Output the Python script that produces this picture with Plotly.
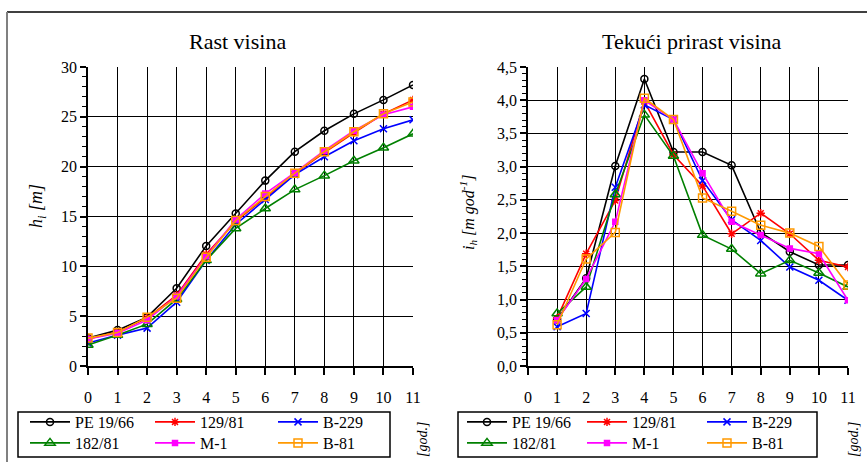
import plotly.graph_objects as go

W, H = 867, 462

series_names = ["PE 19/66", "129/81", "B-229", "182/81", "M-1", "B-81"]
colors = ["#000000", "#FF0000", "#0000FF", "#008000", "#FF00FF", "#FF9900"]
symbols = ["circle-open", "asterisk-open", "x-thin-open", "triangle-up-open", "square", "square-open"]
msizes = [7, 7, 7, 9, 5, 8]

years_height = list(range(0, 12))
pe_height = [2.8, 3.6, 4.9, 7.8, 12.05, 15.3, 18.6, 21.5, 23.6, 25.3, 26.7, 28.2]
r129_height = [2.7, 3.4, 4.8, 7.1, 11.2, 14.5, 16.9, 19.3, 21.4, 23.4, 25.3, 26.7]
b229_height = [2.3, 3.1, 3.8, 6.4, 10.6, 14.2, 16.7, 19.2, 21.0, 22.6, 23.8, 24.7]
g182_height = [2.1, 3.1, 4.2, 6.7, 10.6, 13.8, 15.8, 17.7, 19.1, 20.6, 21.9, 23.3]
m1_height = [2.7, 3.3, 4.6, 7.0, 11.0, 14.7, 17.3, 19.4, 21.6, 23.6, 25.2, 26.0]
b81_height = [2.8, 3.35, 4.9, 6.8, 10.9, 14.6, 17.0, 19.35, 21.5, 23.5, 25.3, 26.5]

years_incr = list(range(1, 12))
pe_incr = [0.70, 1.32, 3.01, 4.32, 3.22, 3.22, 3.02, 2.01, 1.72, 1.52, 1.52]
r129_incr = [0.72, 1.69, 2.49, 3.98, 3.18, 2.71, 1.99, 2.30, 1.99, 1.59, 1.49]
b229_incr = [0.59, 0.79, 2.69, 3.93, 3.71, 2.79, 2.20, 1.89, 1.49, 1.29, 0.99]
g182_incr = [0.79, 1.19, 2.58, 3.78, 3.16, 1.97, 1.76, 1.39, 1.59, 1.40, 1.19]
m1_incr = [0.69, 1.31, 2.17, 4.00, 3.71, 2.90, 2.17, 1.97, 1.77, 1.69, 0.99]
b81_incr = [0.62, 1.61, 2.01, 4.03, 3.71, 2.53, 2.33, 2.12, 2.00, 1.80, 1.22]

height_series = [pe_height, r129_height, b229_height, g182_height, m1_height, b81_height]
incr_series = [pe_incr, r129_incr, b229_incr, g182_incr, m1_incr, b81_incr]

x_ticks = list(range(0, 12))
y1_ticks = [0, 5, 10, 15, 20, 25, 30]
y2_ticks = [0.0, 0.5, 1.0, 1.5, 2.0, 2.5, 3.0, 3.5, 4.0, 4.5]
y2_ticklabels = [f"{v:.1f}".replace(".", ",") for v in y2_ticks]

title_left = "Rast visina"
title_right = "Tekući prirast visina"
ytitle_left = "<i>h<sub>i</sub> [m]</i>"
ytitle_right = "<i>i<sub>h</sub> [m god<sup>-1</sup>]</i>"
xunit = "<i>[god.]</i>"

FONT = "Liberation Serif, Times New Roman, serif"


def px(x):
    return x / W


def py(y):
    return 1 - y / H


# legend placement (pixel): column x for each series, row y
col_x_left = [25, 150, 273]
col_x_right = [462, 582, 702]
row_y = [405, 426]
col_of = [0, 1, 2, 0, 1, 2]
row_of = [0, 0, 0, 1, 1, 1]

fig = go.Figure()

legend_common = dict(
    orientation="v", xanchor="left", yanchor="top",
    bgcolor="rgba(0,0,0,0)", borderwidth=0,
    font=dict(family=FONT, size=16, color="#000000"),
    itemwidth=40, tracegroupgap=0, itemclick=False, itemdoubleclick=False,
)
legend_layouts = {}
lg = 0
for xs, ys, xa, ya, colx in [
        (years_height, height_series, "x", "y", col_x_left),
        (years_incr, incr_series, "x2", "y2", col_x_right)]:
    for i, name in enumerate(series_names):
        lg += 1
        key = "legend" if lg == 1 else f"legend{lg}"
        legend_layouts[key] = dict(x=px(colx[col_of[i]]), y=py(row_y[row_of[i]]), **legend_common)
        fig.add_trace(go.Scatter(
            x=xs, y=ys[i], name=name, mode="lines+markers",
            line=dict(color=colors[i], width=1.6),
            marker=dict(symbol=symbols[i], size=msizes[i], color=colors[i],
                        line=dict(color=colors[i], width=1.5)),
            xaxis=xa, yaxis=ya, legend=key, showlegend=True,
        ))

common_x = dict(
    range=[0, 11], tickmode="array", tickvals=x_ticks, ticktext=[str(v) for v in x_ticks],
    showgrid=True, gridcolor="#000000", gridwidth=1,
    showline=True, linecolor="#000000", linewidth=1.5,
    ticks="outside", ticklen=7, tickcolor="#000000", tickwidth=1.5,
    tickfont=dict(family=FONT, size=16, color="#000000"),
    ticklabelstandoff=9, zeroline=False, fixedrange=True,
)
fig.update_layout(
    width=W, height=H,
    showlegend=True,
    margin=dict(l=0, r=0, t=0, b=0, autoexpand=False),
    paper_bgcolor="#FFFFFF", plot_bgcolor="#FFFFFF",
    font=dict(family=FONT, size=16, color="#000000"),
    xaxis=dict(domain=[px(88), px(413)], anchor="y", **common_x),
    xaxis2=dict(domain=[px(528), px(848)], anchor="y2", **common_x),
    yaxis=dict(
        domain=[py(366), py(67)], anchor="x", range=[0, 30],
        tickmode="array", tickvals=y1_ticks, ticktext=[str(v) for v in y1_ticks],
        showgrid=True, gridcolor="#000000", gridwidth=1,
        showline=True, linecolor="#000000", linewidth=1.5,
        ticks="outside", ticklen=6, tickcolor="#000000", tickwidth=1.5,
        minor=dict(dtick=1, ticks="outside", ticklen=4, tickcolor="#000000", tickwidth=1, showgrid=False),
        tickfont=dict(family=FONT, size=16, color="#000000"),
        zeroline=False, fixedrange=True,
    ),
    yaxis2=dict(
        domain=[py(366), py(67)], anchor="x2", range=[0, 4.5],
        tickmode="array", tickvals=y2_ticks, ticktext=y2_ticklabels,
        showgrid=True, gridcolor="#000000", gridwidth=1,
        showline=True, linecolor="#000000", linewidth=1.5,
        ticks="outside", ticklen=6, tickcolor="#000000", tickwidth=1.5,
        minor=dict(dtick=0.1, tick0=0, ticks="outside", ticklen=4, tickcolor="#000000", tickwidth=1, showgrid=False),
        tickfont=dict(family=FONT, size=16, color="#000000"),
        zeroline=False, fixedrange=True,
    ),
)
fig.update_layout(legend_layouts)

annotations = [
    dict(text=title_left, x=px(237), y=py(41), font=dict(family=FONT, size=22)),
    dict(text=title_right, x=px(692), y=py(41), font=dict(family=FONT, size=22)),
    dict(text=ytitle_left, x=px(37), y=py(206), textangle=-90, font=dict(family=FONT, size=18)),
    dict(text=ytitle_right, x=px(468), y=py(213), textangle=-90, font=dict(family=FONT, size=16)),
    dict(text=xunit, x=px(422), y=py(440), textangle=-90, font=dict(family=FONT, size=14)),
    dict(text=xunit, x=px(853), y=py(440), textangle=-90, font=dict(family=FONT, size=14)),
]
for a in annotations:
    a.update(xref="paper", yref="paper", xanchor="center", yanchor="middle", showarrow=False)
fig.update_layout(annotations=annotations)

shapes = [
    dict(type="line", x0=px(7), x1=px(867), y0=py(12), y1=py(12), line=dict(color="#000000", width=1.5)),
    dict(type="line", x0=px(7), x1=px(7), y0=py(12), y1=py(462), line=dict(color="#808080", width=2)),
    dict(type="rect", x0=px(18), x1=px(390), y0=py(412), y1=py(457), line=dict(color="#000000", width=1.5)),
    dict(type="rect", x0=px(458), x1=px(817), y0=py(412), y1=py(457), line=dict(color="#000000", width=1.5)),
]
for s in shapes:
    s.update(xref="paper", yref="paper")
fig.update_layout(shapes=shapes)

fig.write_html(
    "out.html",
    config={"displayModeBar": False},
    post_script="document.body.style.margin='0';document.body.style.overflow='hidden';",
)
